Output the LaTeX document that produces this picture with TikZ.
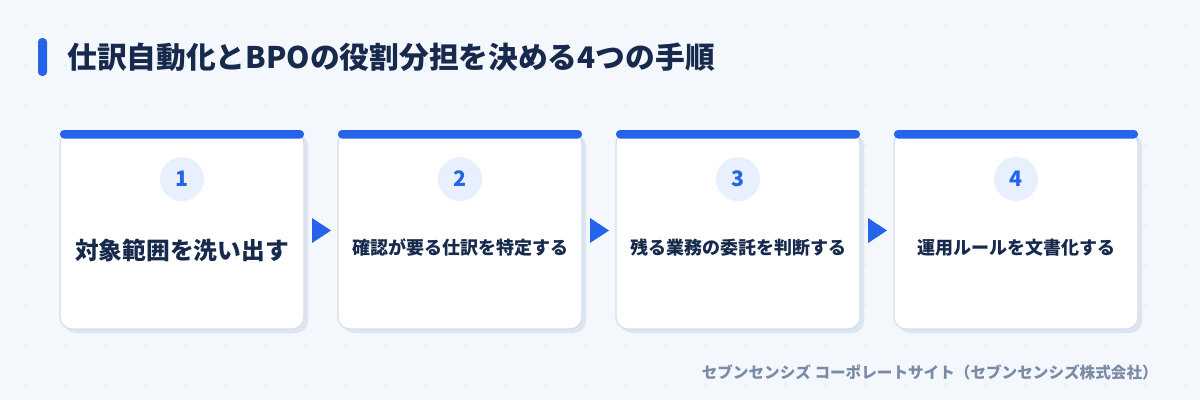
\documentclass[tikz,border=0pt]{standalone}
\usepackage{fontspec}
\setmainfont{Noto Sans CJK JP}
\definecolor{bgc}{HTML}{F4F7FC}
\definecolor{bluec}{HTML}{2563EB}
\definecolor{navy}{HTML}{172A4D}
\definecolor{cardline}{HTML}{D3DEEE}
\definecolor{shadowc}{HTML}{DCE5F2}
\definecolor{circfill}{HTML}{E8F0FD}
\definecolor{footc}{HTML}{7B8BA6}
\definecolor{gridc}{HTML}{E4EAF4}
\tikzset{
  x=0.75pt, y=-0.75pt,
  cardbody/.style={fill=white, draw=cardline, line width=0.9pt, rounded corners=9pt},
  cardshadow/.style={fill=shadowc, rounded corners=9pt},
  topbar/.style={fill=bluec, rounded corners=3pt},
  numcirc/.style={circle, fill=circfill, minimum size=33pt, inner sep=0pt, text=bluec, font=\bfseries\fontsize{16}{16}\selectfont},
  steptext/.style={text=navy, font=\bfseries\fontsize{13.5}{16}\selectfont},
  bigtext/.style={text=navy, font=\bfseries\fontsize{17.8}{21}\selectfont},
  flowtri/.style={fill=bluec},
}
\begin{document}
\begin{tikzpicture}
\fill[bgc] (0,0) rectangle (1200,400);
\useasboundingbox (0,0) rectangle (1200,400);
% faint grid marks
\foreach \gx in {25,65,...,1185} {
  \foreach \gy in {25,65,...,385} {
    \draw[gridc, line width=0.35pt] (\gx-1.8,\gy) -- (\gx+1.8,\gy) (\gx,\gy-1.8) -- (\gx,\gy+1.8);
  }
}
% title
\fill[bluec, rounded corners=3pt] (38,38) rectangle (47,76);
\node[anchor=west, text=navy, font=\bfseries\fontsize{22.3}{26}\selectfont, inner sep=0pt] (title) at (67,57) {仕訳自動化とBPOの役割分担を決める4つの手順};
% cards
\foreach \i/\cx in {1/182,2/460,3/738,4/1016} {
  \fill[cardshadow] (\cx-122+4,134) rectangle (\cx+122+4,333);
  \draw[cardbody] (\cx-122,132) rectangle (\cx+122,329);
  \fill[topbar] (\cx-122,130) rectangle (\cx+122,138.5);
}
\node[numcirc] (n1) at (182,179) {1};
\node[numcirc] (n2) at (460,179) {2};
\node[numcirc] (n3) at (738,179) {3};
\node[numcirc] (n4) at (1016,179) {4};
\node[bigtext] (t1) at (182,250) {対象範囲を洗い出す};
\node[steptext] (t2) at (460,248) {確認が要る仕訳を特定する};
\node[steptext] (t3) at (738,248) {残る業務の委託を判断する};
\node[steptext] (t4) at (1016,248) {運用ルールを文書化する};
% arrows
\foreach \ax in {312,590,868} {
  \fill[flowtri] (\ax,218) -- (\ax+19,230.5) -- (\ax,243) -- cycle;
}
% footer
\node[anchor=east, text=footc, font=\bfseries\fontsize{11.7}{14}\selectfont, inner sep=0pt] (foot) at (1158,372) {セブンセンシズ コーポレートサイト（セブンセンシズ株式会社）};
\end{tikzpicture}
\end{document}
